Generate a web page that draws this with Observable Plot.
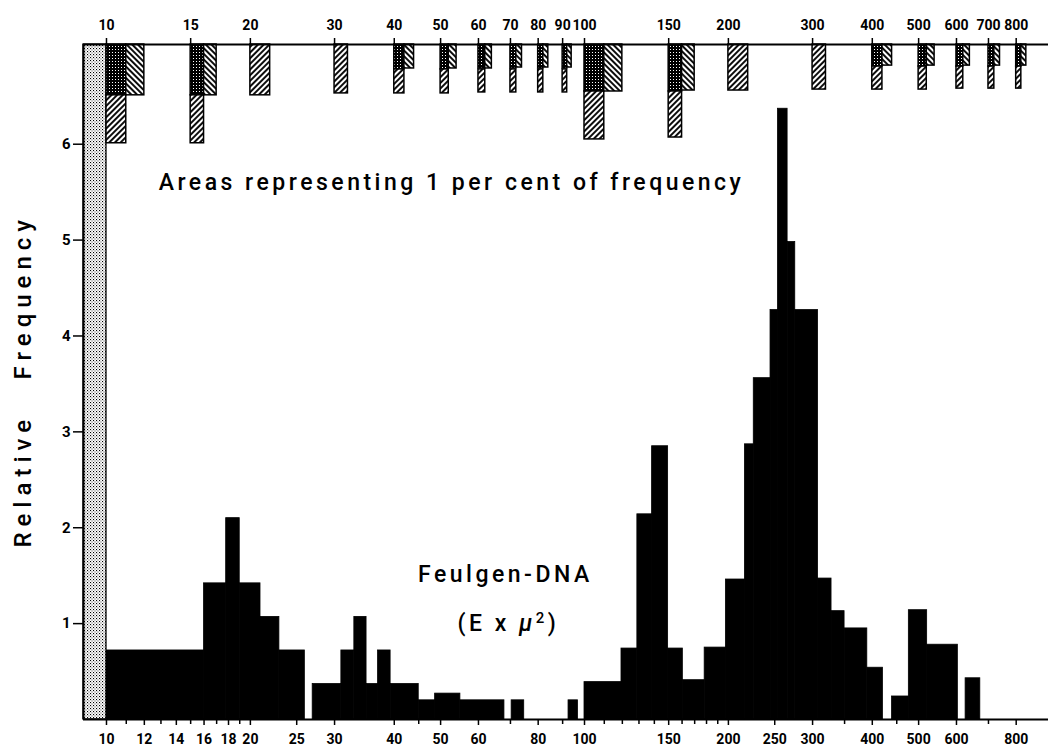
<!DOCTYPE html>
<html>
<head>
<meta charset="utf-8">
<script src="https://cdn.jsdelivr.net/npm/d3@7"></script>
<script src="https://cdn.jsdelivr.net/npm/@observablehq/plot@0.6"></script>
<style>
  html, body { margin: 0; padding: 0; background: #fff; }
  #chart { width: 1048px; height: 746px; overflow: hidden; }
</style>
</head>
<body>
<div id="chart"></div>
<script>
// ---------- histogram (Feulgen-DNA, log classes) ----------
const binLo = [10,16,17.8,19,21,23, 27,31,33,35,37,39.3, 45,48.7,55,70.4,92.6,
  100,119.5,129,138.5,149.6,160.6,178.4,197.6,
  216.6,226,245,254,266,276,308,328.7,350,390.5, 440,477,521,627];
const binHi = [16,17.8,19,21,23,26, 31,33,35,37,39.3,45, 48.7,55,68,74.8,96.9,
  119.5,129,138.5,149.6,160.6,178.4,197.6,216.6,
  226,245,254,266,276,308,328.7,350,390.5,421, 477,521,604,673];
const binFreq = [0.72,1.42,2.1,1.42,1.07,0.72, 0.37,0.72,1.07,0.37,0.72,0.37, 0.2,0.27,0.2,0.2,0.2,
  0.39,0.74,2.14,2.85,0.74,0.41,0.75,1.46,
  2.87,3.56,4.27,6.37,4.98,4.27,1.47,1.13,0.95,0.54, 0.24,1.14,0.78,0.43];

// ---------- key: areas representing 1 per cent of frequency ----------
const keyLo = [10,10,11, 15,15,16, 20, 30, 40,40,42, 50,50,52, 60,60,62, 70,70,72, 80,80,82, 90,90,92,
  100,100,110, 150,150,160, 200, 300, 400,400,420, 500,500,520, 600,600,620, 700,700,720, 800,800,820];
const keyHi = [11,11,12, 16,16,17, 22, 32, 42,42,44, 52,52,54, 62,62,64, 72,72,74, 82,82,84, 92,92,94,
  110,110,120, 160,160,170, 220, 320, 420,420,440, 520,520,540, 620,620,640, 720,720,740, 820,820,840];
const keyDepthTop = [0,0.53,0, 0,0.53,0, 0, 0, 0,0.26,0, 0,0.26,0, 0,0.26,0, 0,0.26,0, 0,0.26,0, 0,0.26,0,
  0,0.49,0, 0,0.49,0, 0, 0, 0,0.23,0, 0,0.23,0, 0,0.23,0, 0,0.23,0, 0,0.23,0];
const keyDepthBottom = [0.53,1.03,0.53, 0.53,1.03,0.53, 0.53, 0.51, 0.26,0.51,0.25, 0.26,0.51,0.25, 0.25,0.5,0.25,
  0.25,0.5,0.24, 0.25,0.5,0.24, 0.25,0.5,0.24,
  0.49,0.99,0.49, 0.49,0.97,0.48, 0.48, 0.47, 0.23,0.47,0.22, 0.23,0.47,0.22, 0.23,0.46,0.22, 0.23,0.46,0.22, 0.23,0.46,0.22];
const keyPattern = ["dotted","forward","backward", "dotted","forward","backward", "forward", "forward",
  "dotted","forward","backward", "dotted","forward","backward", "dotted","forward","backward",
  "dotted","forward","backward", "dotted","forward","backward", "dotted","forward","backward",
  "dotted","forward","backward", "dotted","forward","backward", "forward", "forward",
  "dotted","forward","backward", "dotted","forward","backward", "dotted","forward","backward",
  "dotted","forward","backward", "dotted","forward","backward"];

// ---------- axes ----------
const topTicks = [10,15,20,30,40,50,60,70,80,90,100,150,200,300,400,500,600,700,800];
const bottomTicks = [10,12,14,16,18,20,25,30,40,50,60,80,100,150,200,250,300,400,500,600,800];
const bottomMinor = [11,13,15,17,19,45,70,90,110,120,130,140,160,170,180,190,350,450,700];
const yTicks = [1,2,3,4,5,6];
const xDomain = [8.952, 934.7];
const yTop = 7.04;
const shadedRange = [8.952, 10];   // stippled strip below 10

const bars = binLo.map((lo, i) => ({lo, hi: binHi[i], f: binFreq[i]}));
const key = keyLo.map((lo, i) => ({lo, hi: keyHi[i], d1: keyDepthTop[i], d2: keyDepthBottom[i], p: keyPattern[i]}));
const keyOf = p => key.filter(k => k.p === p);

const font = "Roboto, 'DejaVu Sans', sans-serif";
const TITLE = "Areas representing 1 per cent of frequency";
const NAME = "Feulgen-DNA";
const UNIT = "(E x μ²)";

const chart = Plot.plot({
  width: 1048,
  height: 746,
  marginLeft: 83,
  marginRight: 0,
  marginTop: 44,
  marginBottom: 27,
  style: {fontFamily: font, background: "#fff", color: "#000", overflow: "visible"},
  x: {type: "log", domain: xDomain},
  y: {domain: [0, yTop]},
  marks: [
    Plot.rectY(bars, {x1: "lo", x2: "hi", y: "f", fill: "#000", stroke: "#000", strokeWidth: 0.8, inset: 0}),
    Plot.rect([shadedRange], {x1: d => d[0], x2: d => d[1], y1: 0, y2: yTop,
      fill: "url(#pat-stipple)", stroke: "#000", strokeWidth: 1.3}),
    Plot.rect(keyOf("dotted"), {x1: "lo", x2: "hi", y1: d => yTop - d.d1, y2: d => yTop - d.d2,
      fill: "url(#pat-dark)", stroke: "#000", strokeWidth: 1.5}),
    Plot.rect(keyOf("forward"), {x1: "lo", x2: "hi", y1: d => yTop - d.d1, y2: d => yTop - d.d2,
      fill: "url(#pat-fwd)", stroke: "#000", strokeWidth: 1.5}),
    Plot.rect(keyOf("backward"), {x1: "lo", x2: "hi", y1: d => yTop - d.d1, y2: d => yTop - d.d2,
      fill: "url(#pat-back)", stroke: "#000", strokeWidth: 1.5}),
    Plot.ruleY([0], {stroke: "#000", strokeWidth: 2}),
    Plot.ruleY([yTop], {stroke: "#000", strokeWidth: 2}),
    Plot.ruleX([shadedRange[0]], {stroke: "#000", strokeWidth: 2}),
    // tick marks
    Plot.axisX({anchor: "bottom", ticks: bottomTicks, tickFormat: () => "", tickSize: 6,
      label: null, strokeWidth: 1.5}),
    Plot.axisX({anchor: "bottom", ticks: bottomMinor, tickFormat: () => "", tickSize: 5,
      label: null, strokeWidth: 1.5}),
    Plot.axisX({anchor: "top", ticks: topTicks, tickFormat: () => "", tickSize: 7,
      label: null, strokeWidth: 1.5}),
    // tick labels
    Plot.text(bottomTicks, {x: d => d, y: 0, dy: 20, text: d => String(d), fontSize: 14,
      fontWeight: "bold", lineAnchor: "middle"}),
    Plot.text(topTicks, {x: d => d, y: yTop, dy: -19, text: d => String(d), fontSize: 14,
      fontWeight: "bold", lineAnchor: "middle"}),
    Plot.axisY({ticks: yTicks, tickFormat: d => String(d), tickSize: 10, tickPadding: 3,
      fontSize: 15, fontWeight: "bold", label: null, strokeWidth: 1.5}),
    // lettering
    Plot.text([TITLE], {x: 52.7, y: 5.6, text: d => d, fontSize: 23, fontWeight: 500}),
    Plot.text([NAME], {x: 68.3, y: 1.51, text: d => d, fontSize: 23, fontWeight: 500}),
    Plot.text([UNIT], {x: 69.3, y: 1.0, text: d => d, fontSize: 23, fontWeight: 500}),
    Plot.text(["Relative", "Frequency"], {frameAnchor: "left", y: [2.49, 4.41], text: d => d,
      rotate: -90, dx: -60, fontSize: 24, fontWeight: 500, textAnchor: "middle"})
  ]
});

// patterns
const s = d3.select(chart);
const defs = s.insert("defs", ":first-child");
const stip = defs.append("pattern").attr("id", "pat-stipple").attr("patternUnits", "userSpaceOnUse")
  .attr("width", 3).attr("height", 3);
stip.append("rect").attr("width", 3).attr("height", 3).attr("fill", "#fff");
stip.append("rect").attr("width", 1.1).attr("height", 1.1).attr("fill", "#000");
stip.append("rect").attr("x", 1.5).attr("y", 1.5).attr("width", 1).attr("height", 1).attr("fill", "#333");
const dark = defs.append("pattern").attr("id", "pat-dark").attr("patternUnits", "userSpaceOnUse")
  .attr("width", 3).attr("height", 3);
dark.append("rect").attr("width", 3).attr("height", 3).attr("fill", "#000");
dark.append("rect").attr("x", 1).attr("y", 1).attr("width", 1).attr("height", 1).attr("fill", "#fff");
for (const [id, rot] of [["pat-fwd", 45], ["pat-back", -45]]) {
  const p = defs.append("pattern").attr("id", id).attr("patternUnits", "userSpaceOnUse")
    .attr("width", 4).attr("height", 4).attr("patternTransform", `rotate(${rot})`);
  p.append("rect").attr("width", 4).attr("height", 4).attr("fill", "#fff");
  p.append("line").attr("x1", 2).attr("y1", 0).attr("x2", 2).attr("y2", 4)
    .attr("stroke", "#000").attr("stroke-width", 1.9);
}

// letter spacing for the hand lettering, italic mu
s.selectAll("text").each(function () {
  const c = this.textContent;
  const t = d3.select(this);
  if (c === TITLE || c === NAME) t.attr("letter-spacing", "3.5px");
  if (c === "Relative" || c === "Frequency") t.attr("letter-spacing", "6px");
  if (c === UNIT) {
    t.attr("letter-spacing", "3.5px");
    t.text(null);
    t.append("tspan").text("(E x ");
    t.append("tspan").attr("font-style", "italic").text("μ");
    t.append("tspan").attr("font-size", "15").attr("dy", "-0.5em").text("2");
    t.append("tspan").attr("dy", "0.33em").text(")");
  }
});

document.getElementById("chart").appendChild(chart);
</script>
</body>
</html>
